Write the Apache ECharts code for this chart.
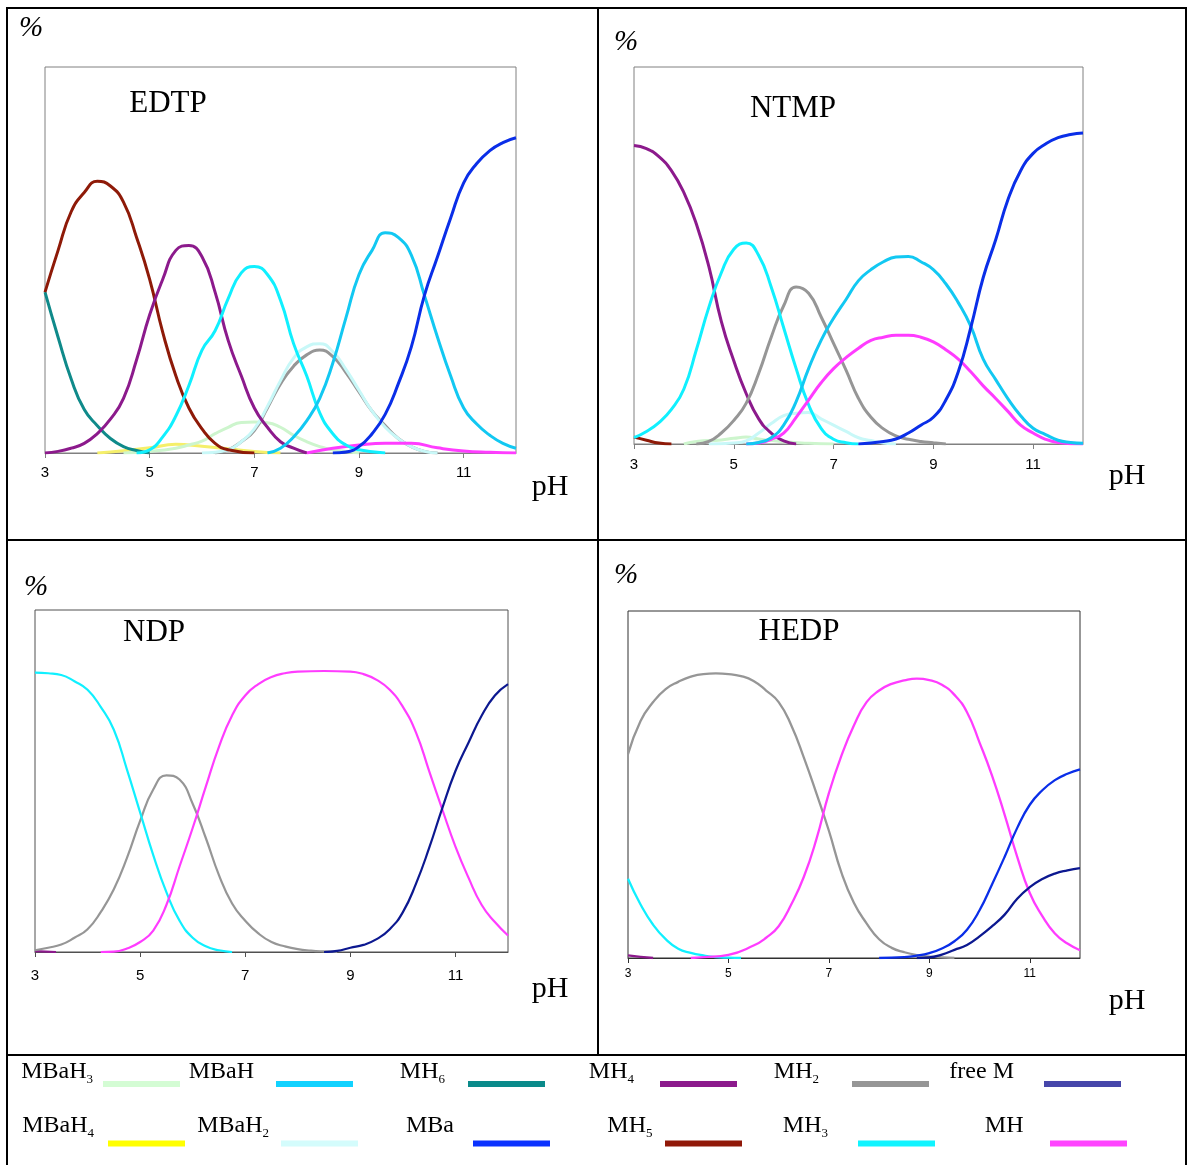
<!DOCTYPE html>
<html>
<head>
<meta charset="utf-8">
<script src="https://cdn.jsdelivr.net/npm/echarts@6/dist/echarts.min.js"></script>
<style>
  html, body { margin: 0; padding: 0; background: #fff; }
  #main { width: 1187px; height: 1165px; }
</style>
</head>
<body>
<div id="main"></div>
<script>
// x ticks shown on every panel
var phTicks = [3, 5, 7, 9, 11];

// EDTP  [pH, %]
var edtpMH6 = [[3,50],[3.25,36],[3.5,23],[3.75,13.5],[4,8.5],[4.25,4.5],[4.5,2],[4.75,0.8],[5,0]];
var edtpMH5 = [[3,50],[3.25,63],[3.5,75],[3.75,81],[4,84.5],[4.25,83],[4.5,78],[4.75,67],[5,54],[5.25,37.5],[5.5,24],[5.75,14],[6,7.5],[6.25,3],[6.5,1],[7,0]];
var edtpMH4 = [[3,0],[3.25,0.5],[3.5,1.5],[3.75,3],[4,6],[4.25,10.5],[4.5,17],[4.75,29],[5,43],[5.25,54],[5.5,63],[5.75,64.5],[6,61],[6.25,50],[6.5,35],[6.75,24],[7,14],[7.25,8],[7.5,3.5],[7.75,1.5],[8,0]];
var edtpMH3 = [[4.75,0],[5,1],[5.25,5],[5.5,11.5],[5.75,21],[6,32],[6.25,38],[6.5,48],[6.75,56],[7,58],[7.25,55.5],[7.5,47.5],[7.75,34],[8,24],[8.25,12.5],[8.5,6],[8.75,2.5],[9,1],[9.5,0]];
var edtpMH2 = [[6.25,0],[6.5,1],[6.75,3.5],[7,7],[7.25,14],[7.5,21.5],[7.75,27],[8,30.5],[8.25,32],[8.5,30],[8.75,25],[9,19],[9.25,13],[9.5,8.5],[9.75,4.5],[10,2],[10.25,0.5],[10.5,0]];
var edtpMBaH2 = [[6,0],[6.5,1],[6.75,3.5],[7,7.5],[7.25,14.5],[7.5,22.5],[7.75,29.5],[8,33],[8.25,34],[8.5,31.5],[8.75,26],[9,19.5],[9.25,13],[9.5,8],[9.75,4.5],[10,2],[10.25,0.5],[10.5,0]];
var edtpMBaH3 = [[4.5,0],[5,0.5],[5.5,1.5],[5.75,2.5],[6,3.7],[6.25,6],[6.5,8],[6.75,9.5],[7,9.6],[7.25,9.4],[7.5,8],[7.75,5.5],[8,3.5],[8.25,2],[8.5,1],[9,0]];
var edtpMBaH4 = [[4,0],[4.5,0.7],[5,1.6],[5.5,2.7],[6,2.1],[6.5,1.3],[7,0.5],[7.5,0]];
var edtpMBaH = [[7.25,0],[7.5,1.5],[7.75,5],[8,10],[8.25,17],[8.5,28],[8.75,42],[9,55.5],[9.25,63],[9.5,68.5],[9.75,67],[10,61.5],[10.25,49],[10.5,36],[10.75,24],[11,14],[11.25,9],[11.5,5.5],[11.75,3],[12,1.5]];
var edtpMBa = [[8.5,0],[8.75,0.3],[9,2],[9.25,6],[9.5,12],[9.75,21.5],[10,33],[10.25,49],[10.5,61],[10.75,73],[11,84],[11.25,90],[11.5,94],[11.75,96.5],[12,98]];
var edtpMH = [[8,0],[8.5,1.5],[9,2.5],[9.5,3],[10,3],[10.5,1.6],[11,0.6],[11.5,0.2],[12,0]];

// NTMP
var ntmpMH5 = [[3,2.2],[3.25,1.2],[3.5,0.3],[3.75,0]];
var ntmpMH4 = [[3,95],[3.25,94],[3.5,91.5],[3.75,87],[4,80],[4.25,70],[4.5,56.5],[4.75,39],[5,26.5],[5.25,16],[5.5,8],[5.75,3.5],[6,1],[6.25,0]];
var ntmpMH3 = [[3,2],[3.25,4],[3.5,6.8],[3.75,11],[4,17.5],[4.25,30],[4.5,43.5],[4.75,54.5],[5,62],[5.25,64],[5.5,60],[5.75,50],[6,37],[6.25,24],[6.5,12.5],[6.75,5],[7,1.5],[7.25,0.4],[7.5,0]];
var ntmpMH2 = [[4.25,0],[4.5,0.8],[4.75,3.5],[5,7.5],[5.25,13],[5.5,22.5],[5.75,34],[6,44],[6.25,50],[6.5,48],[6.75,40.5],[7,32],[7.25,23.5],[7.5,14.5],[7.75,8.5],[8,4.8],[8.25,2.6],[8.5,1.5],[8.75,0.8],[9,0.4],[9.25,0]];
var ntmpMBaH3 = [[4,0],[4.25,0.8],[4.75,1.3],[5,1.8],[5.25,2.2],[5.5,1.6],[6,0.7],[6.5,0.2],[7,0]];
var ntmpMBaH2 = [[4.5,0],[5,0.3],[5.25,1],[5.5,3.5],[5.75,6.5],[6,9],[6.25,9.8],[6.5,10],[6.75,8],[7,6],[7.25,4],[7.5,2],[7.75,1.1],[8,0.3],[8.25,0]];
var ntmpMBaH = [[5.25,0],[5.5,0.5],[5.75,2],[6,6],[6.25,13.5],[6.5,24],[6.75,33],[7,40],[7.25,46],[7.5,52],[7.75,55.5],[8,58],[8.25,59.5],[8.5,59.7],[8.75,58],[9,55.5],[9.25,51],[9.5,45],[9.75,37.5],[10,27],[10.25,20.5],[10.5,14.3],[10.75,9],[11,5],[11.25,3],[11.5,1.2],[11.75,0.5],[12,0.2]];
var ntmpMH = [[5.25,0],[5.5,0.3],[5.75,1.5],[6,3.5],[6.25,8.5],[6.5,14],[6.75,19.5],[7,24],[7.25,27.5],[7.5,30.5],[7.75,33],[8,34],[8.25,34.6],[8.5,34.6],[8.75,34],[9,32.5],[9.25,30],[9.5,27],[9.75,23],[10,18.5],[10.25,14.5],[10.5,10.3],[10.75,6],[11,3.5],[11.25,1.5],[11.5,0.5],[12,0]];
var ntmpMBa = [[7.5,0],[8,0.8],[8.25,1.6],[8.5,3.5],[8.75,6],[9,8.5],[9.25,14],[9.5,23],[9.75,37],[10,53],[10.25,65],[10.5,78],[10.75,87],[11,92.5],[11.25,95.5],[11.5,97.5],[11.75,98.5],[12,99]];

// NDP
var ndpMH4 = [[3,0.3],[3.4,0]];
var ndpMH3 = [[3,98],[3.25,97.8],[3.5,97.2],[3.75,95],[4,92],[4.25,86],[4.5,78],[4.75,64],[5,49],[5.25,34],[5.5,21],[5.75,11],[6,5],[6.25,2],[6.5,0.6],[6.75,0]];
var ndpMH2 = [[3,0.6],[3.25,1.5],[3.5,2.6],[3.75,5],[4,8],[4.25,14],[4.5,22],[4.75,33],[5,46],[5.25,57],[5.5,62],[5.75,60.5],[6,52],[6.25,40],[6.5,27],[6.75,17],[7,11],[7.25,6.5],[7.5,3.5],[7.75,2],[8,1],[8.25,0.5],[8.5,0.2],[8.75,0]];
var ndpMH = [[4.25,0],[4.5,0.1],[4.75,1.2],[5,3.5],[5.25,7.5],[5.5,16.5],[5.75,30],[6,43.5],[6.25,58],[6.5,72],[6.75,83],[7,90],[7.25,94],[7.5,96.5],[7.75,97.8],[8,98.4],[8.5,98.6],[9,98.4],[9.25,97.5],[9.5,95.5],[9.75,92],[10,86],[10.25,77],[10.5,63.5],[10.75,50],[11,37],[11.25,26],[11.5,16.5],[11.75,10.5],[12,5.8]];
var ndpFreeM = [[8.5,0],[8.75,0.4],[9,1.5],[9.25,2.5],[9.5,4.5],[9.75,8],[10,14],[10.25,24],[10.5,36.5],[10.75,50.5],[11,63.5],[11.25,73.5],[11.5,83],[11.75,90],[12,94]];

// HEDP
var hedpMH4 = [[3,0.9],[3.25,0.4],[3.5,0]];
var hedpMH3 = [[3,27.4],[3.25,18.5],[3.5,11.5],[3.75,6.5],[4,3.2],[4.25,1.8],[4.5,0.9],[4.75,0.3],[5,0.1],[5.25,0]];
var hedpMH2 = [[3,70.5],[3.25,82],[3.5,88.5],[3.75,93],[4,95.5],[4.25,97.3],[4.5,98.2],[4.75,98.4],[5,98.2],[5.25,97.5],[5.5,95.8],[5.75,92.5],[6,88.5],[6.25,80.5],[6.5,69.4],[6.75,57],[7,44],[7.25,29.5],[7.5,19],[7.75,12],[8,6.5],[8.25,3.5],[8.5,2],[8.75,1],[9,0.5],[9.5,0]];
var hedpMH = [[4.25,0],[4.5,0.3],[5,1.1],[5.5,4.3],[5.75,7],[6,11],[6.25,18.5],[6.5,28],[6.75,41],[7,57],[7.25,70],[7.5,80.5],[7.75,88.5],[8,92.5],[8.25,94.8],[8.5,96],[8.75,96.6],[9,96.1],[9.25,94.5],[9.5,91],[9.75,85],[10,74.5],[10.25,63],[10.5,49.5],[10.75,35],[11,22.5],[11.25,14.5],[11.5,8.5],[11.75,5],[12,2.7]];
var hedpMBa = [[8,0],[8.5,0.3],[8.75,0.8],[9,1.7],[9.25,3.3],[9.5,5.8],[9.75,9.8],[10,16.5],[10.25,25.5],[10.5,35],[10.75,45],[11,53],[11.25,58],[11.5,61.5],[11.75,63.7],[12,65.2]];
var hedpFreeM = [[8.75,0],[9,0.2],[9.25,1.2],[9.5,2.8],[9.75,4.5],[10,7.5],[10.25,11],[10.5,15],[10.75,20.5],[11,24.5],[11.25,27.3],[11.5,29.2],[11.75,30.3],[12,31.1]];

// legend
var legendRow1 = ['MBaH3', 'MBaH', 'MH6', 'MH4', 'MH2', 'free M'];
var legendRow2 = ['MBaH4', 'MBaH2', 'MBa', 'MH5', 'MH3', 'MH'];
var legendColors = {
	'MBaH3': '#d4fcd4', 'MBaH': '#12d2ff', 'MH6': '#0a8a8a', 'MH4': '#8c1a8c', 'MH2': '#969696', 'free M': '#4646aa',
	'MBaH4': '#ffff00', 'MBaH2': '#d4fcfc', 'MBa': '#0a32ff', 'MH5': '#901808', 'MH3': '#10f4ff', 'MH': '#ff44ff'
};
// line colours in the plots (a few differ from the legend swatch)
var lineColors = {
	'MBaH3': '#cdf5cd', 'MBaH': '#12c8f2', 'MH6': '#0f8a8a', 'MH4': '#8c1a8c', 'MH2': '#969696', 'free M': '#0c1890',
	'MBaH4': '#f5ef6a', 'MBaH2': '#c8f8f8', 'MBa': '#0a2ee8', 'MH5': '#8e1a08', 'MH3': '#10f0ff', 'MH': '#ff3cff'
};

var panels = [
	{ name: 'EDTP', grid: [45, 67, 471, 386], margin: 12, tickSize: 15, axisColor: '#808080', lw: 3,
	  curves: [['MBaH4', edtpMBaH4], ['MBaH3', edtpMBaH3], ['MH2', edtpMH2], ['MBaH2', edtpMBaH2], ['MH', edtpMH],
	           ['MH6', edtpMH6], ['MH5', edtpMH5], ['MH4', edtpMH4], ['MH3', edtpMH3], ['MBaH', edtpMBaH], ['MBa', edtpMBa]],
	  title: [168, 104], pct: [31, 28], ph: [550, 487] },
	{ name: 'NTMP', grid: [634, 67, 449, 377], margin: 13, tickSize: 15, axisColor: '#808080', lw: 3,
	  curves: [['MBaH3', ntmpMBaH3], ['MBaH2', ntmpMBaH2], ['MH5', ntmpMH5], ['MH4', ntmpMH4], ['MH2', ntmpMH2],
	           ['MH3', ntmpMH3], ['MH', ntmpMH], ['MBaH', ntmpMBaH], ['MBa', ntmpMBa]],
	  title: [793, 109], pct: [626, 42], ph: [1127, 476] },
	{ name: 'NDP', grid: [35, 610, 473, 342], margin: 16, tickSize: 15, axisColor: '#505050', lw: 2.2,
	  curves: [['MH4', ndpMH4], ['MH2', ndpMH2], ['MH3', ndpMH3], ['MH', ndpMH], ['free M', ndpFreeM]],
	  title: [154, 633], pct: [36, 587], ph: [550, 989] },
	{ name: 'HEDP', grid: [628, 611, 452, 347], margin: 10, tickSize: 12, axisColor: '#303030', lw: 2.3,
	  curves: [['MH4', hedpMH4], ['MH3', hedpMH3], ['MH2', hedpMH2], ['MH', hedpMH], ['MBa', hedpMBa], ['free M', hedpFreeM]],
	  title: [799, 632], pct: [626, 575], ph: [1127, 1001] }
];

var serif = '"Liberation Serif", "Times New Roman", serif';
var grids = [], xAxes = [], yAxes = [], series = [], graphics = [];

panels.forEach(function (p, i) {
	grids.push({ left: p.grid[0], top: p.grid[1], width: p.grid[2], height: p.grid[3],
		show: true, borderColor: p.axisColor, borderWidth: 1, backgroundColor: 'transparent' });
	xAxes.push({
		gridIndex: i, type: 'value', min: 3, max: 12,
		axisLine: { show: true, lineStyle: { color: p.axisColor, width: 1 } },
		axisTick: { show: true, customValues: phTicks, length: 5, lineStyle: { color: p.axisColor } },
		axisLabel: { customValues: phTicks, margin: p.margin, fontSize: p.tickSize,
			fontFamily: '"Liberation Sans", Arial, sans-serif', color: '#000' },
		splitLine: { show: false }
	});
	yAxes.push({ gridIndex: i, type: 'value', min: 0, max: 120, show: false, splitLine: { show: false } });
	p.curves.forEach(function (c) {
		series.push({
			type: 'line', name: c[0], xAxisIndex: i, yAxisIndex: i, data: c[1],
			symbol: 'none', showSymbol: false, smooth: 0.5,
			color: lineColors[c[0]],
			lineStyle: { width: p.lw, color: lineColors[c[0]] },
			emphasis: { disabled: true }
		});
	});
	graphics.push({ type: 'text', style: { text: p.name, x: p.title[0], y: p.title[1],
		font: '31px ' + serif, fill: '#000', align: 'center', verticalAlign: 'middle' } });
	graphics.push({ type: 'text', style: { text: '%', x: p.pct[0], y: p.pct[1],
		font: 'italic 29px ' + serif, fill: '#000', align: 'center', verticalAlign: 'middle' } });
	graphics.push({ type: 'text', style: { text: 'pH', x: p.ph[0], y: p.ph[1],
		font: '30px ' + serif, fill: '#000', align: 'center', verticalAlign: 'middle' } });
});

// table frame
[[6, 7, 1181, 2], [6, 7, 2, 1158], [1185, 7, 2, 1158], [597, 7, 2, 1049], [6, 539, 1181, 2], [6, 1054, 1181, 2]]
	.forEach(function (r) {
		graphics.push({ type: 'rect', shape: { x: r[0], y: r[1], width: r[2], height: r[3] }, style: { fill: '#000' } });
	});

// legend: swatch left edge and gap between text and swatch, per row
var legendRowsLayout = [
	{ names: legendRow1, top: 1058, shift: 12, swatch: [103, 276, 468, 660, 852, 1044], gap: [5, 17, 18, 21, 28, 25] },
	{ names: legendRow2, top: 1112, shift: 17.5, swatch: [108, 281, 473, 665, 858, 1050], gap: [9, 7, 14, 7.5, 25, 21.5] }
];
var legends = [];
legendRowsLayout.forEach(function (row) {
	row.names.forEach(function (n, k) {
		legends.push({
			data: [{ name: n, itemStyle: { color: legendColors[n], borderWidth: 0 } }],
			right: 1187 - (row.swatch[k] + 77), top: row.top,
			padding: 0, align: 'right', icon: 'rect', itemWidth: 77, itemHeight: 6,
			selectedMode: false,
			itemStyle: { borderWidth: 0 },
			formatter: function (name) {
				var m = name.match(/^(.*?)(\d)$/);
				return m ? m[1] + '{s|' + m[2] + '}' : name;
			},
			textStyle: {
				fontFamily: serif, fontSize: 24, color: '#000', lineHeight: 28,
				padding: [0, row.gap[k], row.shift * 2, 0],
				rich: { s: { fontFamily: serif, fontSize: 13, lineHeight: 13, color: '#000', verticalAlign: 'bottom' } }
			}
		});
	});
});

var myChart = echarts.init(document.getElementById('main'), null, { renderer: 'canvas' });
myChart.setOption({
	backgroundColor: '#fff',
	animation: false,
	grid: grids,
	xAxis: xAxes,
	yAxis: yAxes,
	legend: legends,
	graphic: graphics,
	series: series
});
</script>
</body>
</html>
